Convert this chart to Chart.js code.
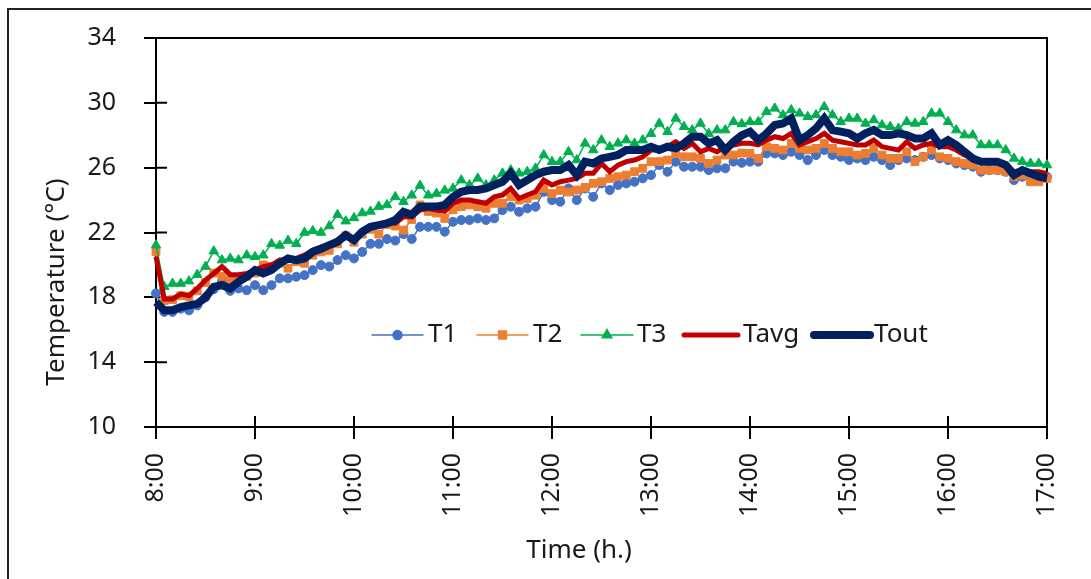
<!DOCTYPE html>
<html>
<head>
<meta charset="utf-8">
<script src="https://cdn.jsdelivr.net/npm/chart.js@4.4.0/dist/chart.umd.min.js"></script>
<style>
  html, body { margin: 0; padding: 0; background: #fff; }
  #wrap { position: relative; width: 1091px; height: 579px; overflow: hidden; }
  #frame { position: absolute; left: 7px; top: 8px; width: 1300px; height: 800px; border: 2px solid #222; }
  #chart { position: absolute; left: 0; top: 0; }
</style>
</head>
<body>
<div id="wrap">
  <div id="frame"></div>
  <canvas id="chart" width="1091" height="579"></canvas>
</div>
<script>
// readings every 5 minutes from 8:00 to 17:00
const stepMinutes = 5;
const hourLabels = ['8:00', '9:00', '10:00', '11:00', '12:00', '13:00', '14:00', '15:00', '16:00', '17:00'];
const yTicks = [10, 14, 18, 22, 26, 30, 34];

const t1 = [18.24, 17.1, 17.1, 17.3, 17.2, 17.5, 18.0, 18.5, 19.0, 18.4, 18.55, 18.44, 18.75,
  18.44, 18.75, 19.17, 19.17, 19.27, 19.37, 19.68, 19.99, 19.9, 20.3, 20.6, 20.4,
  20.8, 21.3, 21.3, 21.6, 21.5, 21.9, 21.6, 22.35, 22.35, 22.35, 22.05, 22.66,
  22.77, 22.77, 22.87, 22.77, 22.87, 23.38, 23.59, 23.28, 23.49, 23.59, 24.51, 24.0,
  23.9, 24.72, 24.0, 24.72, 24.2, 25.03, 24.62, 24.93, 25.03, 25.13, 25.34, 25.54,
  26.16, 25.75, 26.37, 26.06, 26.06, 26.06, 25.85, 25.96, 25.96, 26.37, 26.3, 26.37,
  26.37, 26.88, 26.88, 26.78, 26.98, 26.78, 26.47, 26.78, 27.09, 26.78, 26.67, 26.47,
  26.57, 26.47, 26.67, 26.47, 26.16, 26.47, 26.57, 26.47, 26.67, 26.78, 26.57, 26.47,
  26.26, 26.16, 26.06, 25.75, 25.85, 25.85, 25.75, 25.23, 25.44, 25.44, 25.54, 25.44];

const t2 = [20.81, 17.8, 17.85, 18.1, 18.05, 18.4, 18.9, 19.5, 19.3, 19.1, 19.2, 19.3, 19.5,
  20.0, 19.9, 20.1, 19.8, 20.2, 20.1, 20.6, 20.8, 20.9, 21.3, 21.8, 21.4,
  21.9, 22.2, 21.9, 22.5, 22.4, 22.15, 22.8, 23.7, 23.3, 23.2, 22.87, 23.4,
  23.6, 23.7, 23.6, 23.5, 23.8, 23.8, 24.2, 24.0, 24.1, 24.3, 24.72, 24.4,
  24.6, 24.5, 24.62, 24.78, 25.03, 25.13, 25.34, 25.44, 25.54, 25.75, 25.96, 26.37,
  26.37, 26.47, 26.88, 26.67, 26.67, 26.57, 26.26, 26.47, 26.78, 26.78, 26.9, 26.88,
  26.57, 27.29, 27.19, 27.09, 27.5, 27.19, 27.09, 27.19, 27.5, 27.19, 26.98, 26.98,
  26.78, 26.88, 27.19, 26.78, 26.57, 26.57, 26.98, 26.37, 26.67, 27.09, 26.67, 26.57,
  26.37, 26.26, 26.16, 25.85, 25.85, 25.85, 25.75, 25.44, 25.54, 25.13, 25.13, 25.34];

const t3 = [21.22, 18.65, 18.85, 18.85, 19.0, 19.4, 19.9, 20.85, 20.3, 20.4, 20.3, 20.6, 20.5,
  20.6, 21.3, 21.2, 21.5, 21.3, 22.0, 22.1, 22.0, 22.4, 23.1, 22.7, 22.9,
  23.2, 23.3, 23.6, 23.7, 24.2, 23.9, 24.3, 24.9, 24.3, 24.4, 24.6, 24.72,
  25.23, 24.93, 25.34, 24.93, 25.23, 25.65, 25.85, 25.65, 25.75, 25.96, 26.78, 26.37,
  26.37, 26.98, 26.47, 27.5, 27.09, 27.7, 27.29, 27.5, 27.7, 27.5, 27.7, 28.1,
  28.73, 28.22, 29.04, 28.53, 28.32, 28.73, 28.1, 28.32, 28.32, 28.83, 28.7, 28.83,
  28.83, 29.45, 29.66, 29.25, 29.56, 29.35, 29.14, 29.25, 29.76, 29.25, 28.83, 29.04,
  29.04, 28.73, 28.94, 28.63, 28.53, 28.42, 28.83, 28.73, 28.83, 29.35, 29.35, 28.83,
  28.32, 28.01, 28.01, 27.4, 27.4, 27.4, 27.09, 26.57, 26.37, 26.26, 26.26, 26.16];

const tAvg = [20.5, 17.9, 17.9, 18.2, 18.1, 18.55, 19.06, 19.47, 19.9, 19.4, 19.4, 19.47, 19.68,
  19.9, 19.99, 20.3, 20.3, 20.4, 20.6, 20.9, 21.1, 21.2, 21.5, 21.7, 21.6,
  22.05, 22.35, 22.46, 22.66, 22.56, 22.97, 22.97, 23.38, 23.48, 23.38, 23.3, 23.8,
  24.0, 24.0, 23.9, 23.8, 24.2, 24.31, 24.72, 24.1, 24.31, 24.51, 25.23, 24.93,
  25.13, 25.23, 25.34, 25.65, 25.65, 26.26, 25.75, 26.16, 26.37, 26.47, 26.67, 27.09,
  27.09, 27.29, 27.6, 27.19, 27.5, 26.98, 27.19, 26.98, 27.29, 27.4, 27.5, 27.5,
  27.4, 27.7, 27.91, 27.8, 28.12, 27.4, 27.6, 27.8, 28.12, 27.7, 27.6, 27.5,
  27.4, 27.4, 27.7, 27.29, 27.19, 27.09, 27.6, 27.19, 27.4, 27.5, 27.29, 27.29,
  27.09, 26.78, 26.57, 26.37, 26.37, 26.37, 26.26, 25.75, 25.85, 25.75, 25.75, 25.65];

const tOut = [17.7, 17.2, 17.2, 17.4, 17.5, 17.6, 18.0, 18.65, 18.75, 18.55, 18.96, 19.27, 19.68,
  19.47, 19.68, 20.09, 20.4, 20.3, 20.4, 20.81, 21.0, 21.22, 21.43, 21.84, 21.53,
  22.05, 22.35, 22.46, 22.56, 22.77, 23.28, 23.1, 23.6, 23.6, 23.6, 23.7, 24.2,
  24.51, 24.62, 24.62, 24.72, 24.93, 25.13, 25.65, 24.93, 25.23, 25.54, 25.75, 25.85,
  25.85, 26.16, 25.54, 26.37, 26.26, 26.57, 26.67, 26.78, 27.09, 27.09, 27.09, 27.29,
  27.09, 27.29, 27.19, 27.5, 27.91, 27.91, 27.5, 27.7, 27.09, 27.6, 28.0, 28.22,
  27.7, 28.1, 28.63, 28.73, 29.04, 27.7, 28.01, 28.42, 29.04, 28.32, 28.22, 28.12,
  27.8, 28.12, 28.32, 28.01, 28.01, 28.12, 28.01, 27.8, 27.8, 28.12, 27.4, 27.7,
  27.4, 26.98, 26.57, 26.37, 26.37, 26.37, 26.16, 25.54, 25.85, 25.65, 25.44, 25.34];

const FONT = '"Noto Sans", "Open Sans", sans-serif';
const TEXT = '#1a1a1a';

function pts(arr){
  return arr.map((v, i) => ({ x: i * stepMinutes, y: v }));
}

const series = [
  { label: 'T1', data: t1, color: '#4472C4', width: 1.5, style: 'circle', r: 4.5, order: 5 },
  { label: 'T2', data: t2, color: '#ED7D31', width: 1.5, style: 'rect', r: 5.5, order: 4 },
  { label: 'T3', data: t3, color: '#00B050', width: 1.5, style: 'triangle', r: 5.5, order: 3 },
  { label: 'Tavg', data: tAvg, color: '#C00000', width: 5, style: false, r: 0, order: 2 },
  { label: 'Tout', data: tOut, color: '#002060', width: 8, style: false, r: 0, order: 1 }
];

// legend placement inside the plot, like the original
const legendPos = [
  { x0: 372, x1: 423, tx: 428 },
  { x0: 477, x1: 528, tx: 533 },
  { x0: 581, x1: 633, tx: 637 },
  { x0: 684, x1: 738, tx: 743 },
  { x0: 814, x1: 870, tx: 874 }
];

const decor = {
  id: 'decor',
  beforeDatasetsDraw(chart){
    const { ctx, chartArea: a, scales: { x, y } } = chart;
    ctx.save();
    ctx.strokeStyle = '#000';
    ctx.lineWidth = 2;
    ctx.beginPath();
    ctx.moveTo(a.left, a.top);
    ctx.lineTo(a.right, a.top);
    ctx.lineTo(a.right, a.bottom);
    ctx.stroke();
    // inner half of the crossing tick marks
    ctx.beginPath();
    hourLabels.forEach((h, i) => {
      const px = x.getPixelForValue(i * 60);
      ctx.moveTo(px, a.bottom);
      ctx.lineTo(px, a.bottom - 11);
    });
    yTicks.forEach(v => {
      const py = y.getPixelForValue(v);
      ctx.moveTo(a.left, py);
      ctx.lineTo(a.left + 11, py);
    });
    ctx.stroke();
    ctx.restore();
  },
  afterDraw(chart){
    const { ctx } = chart;
    ctx.save();
    ctx.fillStyle = TEXT;
    ctx.font = '26px ' + FONT;
    ctx.textAlign = 'center';
    ctx.textBaseline = 'middle';
    ctx.fillText('Time (h.)', 579, 551);
    ctx.translate(57, 282);
    ctx.rotate(-Math.PI / 2);
    ctx.fillText('Temperature (°C)', 0, 0);
    ctx.restore();

    // legend
    const ly = 335;
    ctx.save();
    ctx.font = '26px ' + FONT;
    ctx.textBaseline = 'middle';
    ctx.lineCap = 'round';
    series.forEach((s, i) => {
      const p = legendPos[i];
      ctx.strokeStyle = s.color;
      ctx.fillStyle = s.color;
      ctx.lineWidth = s.width;
      ctx.beginPath();
      ctx.moveTo(p.x0, ly);
      ctx.lineTo(p.x1, ly);
      ctx.stroke();
      if (s.style) {
        Chart.helpers.drawPoint(ctx, { pointStyle: s.style, radius: s.r, rotation: 0, borderWidth: 1 }, (p.x0 + p.x1) / 2, ly);
      }
      ctx.fillStyle = TEXT;
      ctx.fillText(s.label, p.tx, ly);
    });
    ctx.restore();
  }
};

const ctx = document.getElementById('chart').getContext('2d');
new Chart(ctx, {
  type: 'line',
  data: {
    datasets: series.map(s => ({
      label: s.label,
      data: pts(s.data),
      borderColor: s.color,
      backgroundColor: s.color,
      borderWidth: s.width,
      pointStyle: s.style || 'circle',
      pointRadius: s.r,
      pointBorderWidth: 1,
      pointHoverRadius: s.r,
      tension: 0,
      clip: false,
      order: s.order
    }))
  },
  options: {
    responsive: false,
    animation: false,
    devicePixelRatio: 1,
    layout: { padding: { top: 38, right: 43, left: 0, bottom: 0 } },
    plugins: {
      legend: { display: false },
      tooltip: { enabled: false }
    },
    scales: {
      x: {
        type: 'linear',
        min: 0,
        max: 540,
        afterFit: s => { s.height = 152; },
        afterBuildTicks: s => { s.ticks = hourLabels.map((h, i) => ({ value: i * 60 })); },
        ticks: {
          callback: v => hourLabels[v / 60],
          minRotation: 90,
          maxRotation: 90,
          autoSkip: false,
          padding: 14,
          color: TEXT,
          font: { family: FONT, size: 25 }
        },
        grid: { drawOnChartArea: false, tickLength: 12, color: '#000', lineWidth: 2 },
        border: { color: '#000', width: 2 }
      },
      y: {
        min: 10,
        max: 34,
        afterFit: s => { s.width = 156; s.paddingTop = 0; s.paddingBottom = 0; },
        afterBuildTicks: s => { s.ticks = yTicks.map(v => ({ value: v })); },
        ticks: {
          padding: 28,
          color: TEXT,
          font: { family: FONT, size: 25 }
        },
        grid: { drawOnChartArea: false, tickLength: 12, color: '#000', lineWidth: 2 },
        border: { color: '#000', width: 2 }
      }
    }
  },
  plugins: [decor]
});
</script>
</body>
</html>
